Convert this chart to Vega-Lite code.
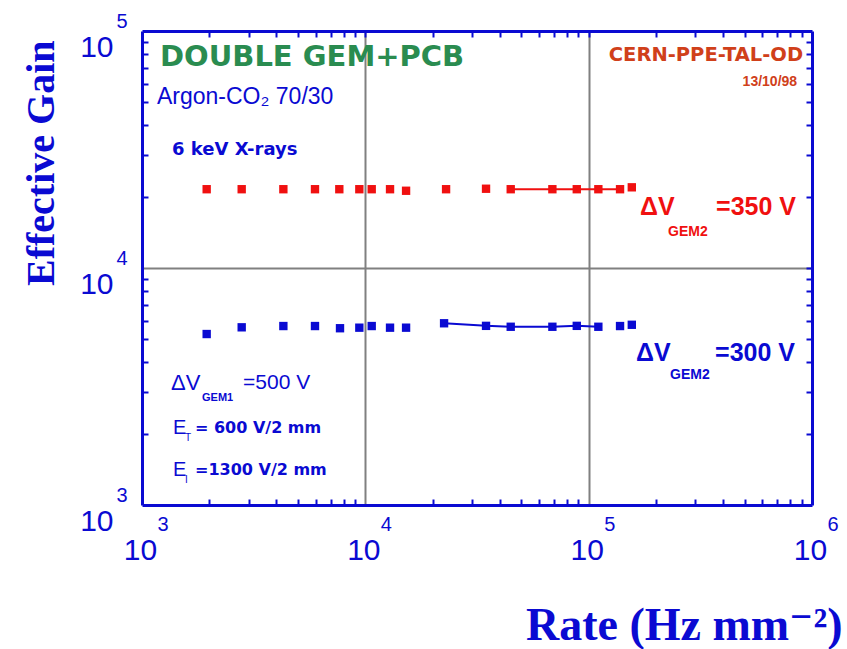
{
  "$schema": "https://vega.github.io/schema/vega-lite/v6.json",
  "width": 670,
  "height": 474,
  "autosize": {"type": "none"},
  "padding": {"left": 142, "top": 31, "right": 35, "bottom": 144},
  "background": "white",
  "config": {
    "view": {"stroke": null},
    "axis": {
      "domainColor": "#0a0ad2", "domainWidth": 3,
      "tickColor": "#0a0ad2", "tickWidth": 2,
      "labelColor": "#0a0ad2", "titleColor": "#0a0ad2",
      "gridColor": "#808080", "gridWidth": 2,
      "labelFlush": false, "labelOverlap": false, "labelBound": false
    },
    "text": {"font": "Liberation Sans, Arial, sans-serif"}
  },
  "datasets": {
    "gain": [
      {"dV": "350 V", "rate": 1948, "gain": 21500, "connected": false},
      {"dV": "350 V", "rate": 2795, "gain": 21500, "connected": false},
      {"dV": "350 V", "rate": 4295, "gain": 21500, "connected": false},
      {"dV": "350 V", "rate": 5951, "gain": 21500, "connected": false},
      {"dV": "350 V", "rate": 7647, "gain": 21500, "connected": false},
      {"dV": "350 V", "rate": 9400, "gain": 21500, "connected": false},
      {"dV": "350 V", "rate": 10680, "gain": 21500, "connected": false},
      {"dV": "350 V", "rate": 12900, "gain": 21500, "connected": false},
      {"dV": "350 V", "rate": 15220, "gain": 21180, "connected": false},
      {"dV": "350 V", "rate": 22990, "gain": 21500, "connected": false},
      {"dV": "350 V", "rate": 34710, "gain": 21600, "connected": false},
      {"dV": "350 V", "rate": 44770, "gain": 21500, "connected": true},
      {"dV": "350 V", "rate": 68790, "gain": 21500, "connected": true},
      {"dV": "350 V", "rate": 88460, "gain": 21500, "connected": true},
      {"dV": "350 V", "rate": 110500, "gain": 21500, "connected": true},
      {"dV": "350 V", "rate": 138200, "gain": 21500, "connected": true},
      {"dV": "350 V", "rate": 156000, "gain": 21900, "connected": false},
      {"dV": "300 V", "rate": 1948, "gain": 5265, "connected": false},
      {"dV": "300 V", "rate": 2795, "gain": 5620, "connected": false},
      {"dV": "300 V", "rate": 4295, "gain": 5690, "connected": false},
      {"dV": "300 V", "rate": 5951, "gain": 5690, "connected": false},
      {"dV": "300 V", "rate": 7702, "gain": 5570, "connected": false},
      {"dV": "300 V", "rate": 9400, "gain": 5600, "connected": false},
      {"dV": "300 V", "rate": 10680, "gain": 5690, "connected": false},
      {"dV": "300 V", "rate": 12900, "gain": 5600, "connected": false},
      {"dV": "300 V", "rate": 15220, "gain": 5600, "connected": false},
      {"dV": "300 V", "rate": 22520, "gain": 5845, "connected": true},
      {"dV": "300 V", "rate": 34710, "gain": 5700, "connected": true},
      {"dV": "300 V", "rate": 44770, "gain": 5650, "connected": true},
      {"dV": "300 V", "rate": 68790, "gain": 5650, "connected": true},
      {"dV": "300 V", "rate": 88460, "gain": 5700, "connected": true},
      {"dV": "300 V", "rate": 110500, "gain": 5650, "connected": true},
      {"dV": "300 V", "rate": 138200, "gain": 5690, "connected": false},
      {"dV": "300 V", "rate": 156000, "gain": 5760, "connected": false}
    ]
  },
  "layer": [
    {
      "data": {"name": "gain"},
      "mark": {"type": "point", "shape": "square", "filled": true, "size": 70, "opacity": 1},
      "encoding": {
        "x": {
          "field": "rate", "type": "quantitative",
          "scale": {"type": "log", "domain": [1000, 1000000], "nice": false},
          "axis": {
            "orient": "bottom", "ticks": false,
            "values": [1000, 10000, 100000, 1000000],
            "labelExpr": "'10'",
            "labelFont": "Liberation Sans, Arial, sans-serif",
            "labelFontSize": 30, "labelPadding": 30, "labelBaseline": "top", "labelOffset": -2,
            "grid": true,
            "gridOpacity": {"condition": {"test": "datum.value == 10000 || datum.value == 100000", "value": 1}, "value": 0},
            "title": "Rate (Hz   mm⁻²)",
            "titleFont": "Liberation Serif, DejaVu Serif, serif", "titleFontWeight": "bold", "titleFontSize": 46,
            "titleAlign": "right", "titleX": 700, "titleY": 134, "titleBaseline": "alphabetic", "titleAnchor": null
          }
        },
        "y": {
          "field": "gain", "type": "quantitative",
          "scale": {"type": "log", "domain": [1000, 100000], "nice": false},
          "axis": {
            "orient": "left", "ticks": false,
            "values": [1000, 10000, 100000],
            "labelExpr": "'10'",
            "labelFont": "Liberation Sans, Arial, sans-serif",
            "labelFontSize": 30, "labelPadding": 29, "labelBaseline": "alphabetic", "labelOffset": 25,
            "grid": true,
            "gridOpacity": {"condition": {"test": "datum.value == 10000", "value": 1}, "value": 0},
            "title": "Effective Gain",
            "titleFont": "Liberation Serif, DejaVu Serif, serif", "titleFontWeight": "bold", "titleFontSize": 40,
            "titleAngle": -90, "titleAlign": "right", "titleBaseline": "alphabetic",
            "titleX": -89, "titleY": 9, "titleAnchor": null
          }
        },
        "color": {"field": "dV", "type": "nominal", "scale": {"domain": ["350 V", "300 V"], "range": ["#f01010", "#0a0ad2"]}, "legend": null}
      }
    },
    {
      "data": {"name": "gain"},
      "transform": [{"filter": "datum.connected"}],
      "mark": {"type": "line", "strokeWidth": 2},
      "encoding": {
        "x": {"field": "rate", "type": "quantitative", "scale": {"type": "log", "domain": [1000, 1000000], "nice": false},
          "axis": {"orient": "top", "ticks": false, "labels": false, "grid": false, "title": null, "values": [1000, 1000000]}},
        "y": {"field": "gain", "type": "quantitative", "scale": {"type": "log", "domain": [1000, 100000], "nice": false},
          "axis": {"orient": "right", "ticks": false, "labels": false, "grid": false, "title": null, "values": [1000, 100000]}},
        "color": {"field": "dV", "type": "nominal", "scale": {"domain": ["350 V", "300 V"], "range": ["#f01010", "#0a0ad2"]}, "legend": null},
        "detail": {"field": "dV"}
      }
    },
    {
      "data": {"name": "gain"},
      "mark": {"type": "point", "opacity": 0},
      "encoding": {
        "x": {"field": "rate", "type": "quantitative", "scale": {"type": "log", "domain": [1000, 1000000], "nice": false},
          "axis": {"orient": "bottom", "domain": false, "grid": false, "title": null, "tickSize": 6, "offset": -6,
            "tickOpacity": {"condition": {"test": "datum.value == 1000 || datum.value == 10000 || datum.value == 100000 || datum.value == 1000000", "value": 0}, "value": 1},
            "labelExpr": "datum.value == 1000 ? '3' : datum.value == 10000 ? '4' : datum.value == 100000 ? '5' : datum.value == 1000000 ? '6' : ''",
            "labelFont": "Liberation Sans, Arial, sans-serif", "labelFontSize": 20,
            "labelAlign": "left", "labelBaseline": "top", "labelOffset": 15, "labelPadding": 9,
            "values": [1000,2000,3000,4000,5000,6000,7000,8000,9000,10000,20000,30000,40000,50000,60000,70000,80000,90000,100000,200000,300000,400000,500000,600000,700000,800000,900000,1000000]}},
        "y": {"field": "gain", "type": "quantitative", "scale": {"type": "log", "domain": [1000, 100000], "nice": false},
          "axis": {"orient": "left", "domain": false, "grid": false, "title": null, "tickSize": 6, "offset": -6,
            "tickOpacity": {"condition": {"test": "datum.value == 1000 || datum.value == 10000 || datum.value == 100000", "value": 0}, "value": 1},
            "labelExpr": "datum.value == 1000 ? '3' : datum.value == 10000 ? '4' : datum.value == 100000 ? '5' : ''",
            "labelFont": "Liberation Sans, Arial, sans-serif", "labelFontSize": 20,
            "labelAlign": "right", "labelBaseline": "middle", "labelOffset": -10, "labelPadding": 15,
            "values": [1000,2000,3000,4000,5000,6000,7000,8000,9000,10000,20000,30000,40000,50000,60000,70000,80000,90000,100000]}}
      }
    },
    {
      "data": {"name": "gain"},
      "mark": {"type": "point", "opacity": 0},
      "encoding": {
        "x": {"field": "rate", "type": "quantitative", "scale": {"type": "log", "domain": [1000, 1000000], "nice": false},
          "axis": {"orient": "top", "domain": false, "labels": false, "grid": false, "title": null, "tickSize": 6, "offset": -6,
            "values": [2000,3000,4000,5000,6000,7000,8000,9000,10000,20000,30000,40000,50000,60000,70000,80000,90000,100000,200000,300000,400000,500000,600000,700000,800000,900000]}},
        "y": {"field": "gain", "type": "quantitative", "scale": {"type": "log", "domain": [1000, 100000], "nice": false},
          "axis": {"orient": "right", "domain": false, "labels": false, "grid": false, "title": null, "tickSize": 6, "offset": -6,
            "values": [2000,3000,4000,5000,6000,7000,8000,9000,10000,20000,30000,40000,50000,60000,70000,80000,90000]}}
      }
    },
    {
      "data": {"values": [{}]},
      "mark": {"type": "text", "text": "DOUBLE GEM+PCB", "font": "DejaVu Sans, sans-serif", "fontWeight": "bold", "fontSize": 29, "color": "#2a8c50", "align": "left", "baseline": "middle"},
      "encoding": {"x": {"datum": 1204, "type": "quantitative", "axis": null}, "y": {"datum": 77630, "type": "quantitative", "axis": null}}
    },
    {
      "data": {"values": [{}]},
      "mark": {"type": "text", "text": "Argon-CO₂ 70/30", "fontSize": 23, "color": "#0a0ad2", "align": "left", "baseline": "middle"},
      "encoding": {"x": {"datum": 1167, "type": "quantitative", "axis": null}, "y": {"datum": 52660, "type": "quantitative", "axis": null}}
    },
    {
      "data": {"values": [{}]},
      "mark": {"type": "text", "text": "6 keV X-rays", "font": "DejaVu Sans, sans-serif", "fontSize": 18, "fontWeight": "bold", "color": "#0a0ad2", "align": "left", "baseline": "middle"},
      "encoding": {"x": {"datum": 1362, "type": "quantitative", "axis": null}, "y": {"datum": 31470, "type": "quantitative", "axis": null}}
    },
    {
      "data": {"values": [{}]},
      "mark": {"type": "text", "text": "CERN-PPE-TAL-OD", "font": "DejaVu Sans, sans-serif", "fontWeight": "bold", "fontSize": 19.5, "color": "#d0401a", "align": "right", "baseline": "middle"},
      "encoding": {"x": {"datum": 912400, "type": "quantitative", "axis": null}, "y": {"datum": 79210, "type": "quantitative", "axis": null}}
    },
    {
      "data": {"values": [{}]},
      "mark": {"type": "text", "text": "13/10/98", "fontWeight": "bold", "fontSize": 14, "color": "#d0401a", "align": "right", "baseline": "middle"},
      "encoding": {"x": {"datum": 857600, "type": "quantitative", "axis": null}, "y": {"datum": 60920, "type": "quantitative", "axis": null}}
    },
    {
      "data": {"values": [{}]},
      "mark": {"type": "text", "text": "ΔV", "fontWeight": "bold", "fontSize": 25, "color": "#f01010", "align": "left", "baseline": "middle"},
      "encoding": {"x": {"datum": 169900, "type": "quantitative", "axis": null}, "y": {"datum": 18090, "type": "quantitative", "axis": null}}
    },
    {
      "data": {"values": [{}]},
      "mark": {"type": "text", "text": "GEM2", "fontWeight": "bold", "fontSize": 14, "color": "#f01010", "align": "left", "baseline": "middle"},
      "encoding": {"x": {"datum": 226800, "type": "quantitative", "axis": null}, "y": {"datum": 14190, "type": "quantitative", "axis": null}}
    },
    {
      "data": {"values": [{}]},
      "mark": {"type": "text", "text": "=350 V", "fontWeight": "bold", "fontSize": 25, "color": "#f01010", "align": "left", "baseline": "middle"},
      "encoding": {"x": {"datum": 372000, "type": "quantitative", "axis": null}, "y": {"datum": 18090, "type": "quantitative", "axis": null}}
    },
    {
      "data": {"values": [{}]},
      "mark": {"type": "text", "text": "ΔV", "fontWeight": "bold", "fontSize": 25, "color": "#0a0ad2", "align": "left", "baseline": "middle"},
      "encoding": {"x": {"datum": 163100, "type": "quantitative", "axis": null}, "y": {"datum": 4379, "type": "quantitative", "axis": null}}
    },
    {
      "data": {"values": [{}]},
      "mark": {"type": "text", "text": "GEM2", "fontWeight": "bold", "fontSize": 14, "color": "#0a0ad2", "align": "left", "baseline": "middle"},
      "encoding": {"x": {"datum": 231500, "type": "quantitative", "axis": null}, "y": {"datum": 3536, "type": "quantitative", "axis": null}}
    },
    {
      "data": {"values": [{}]},
      "mark": {"type": "text", "text": "=300 V", "fontWeight": "bold", "fontSize": 25, "color": "#0a0ad2", "align": "left", "baseline": "middle"},
      "encoding": {"x": {"datum": 368100, "type": "quantitative", "axis": null}, "y": {"datum": 4379, "type": "quantitative", "axis": null}}
    },
    {
      "data": {"values": [{}]},
      "mark": {"type": "text", "text": "ΔV", "fontSize": 22, "color": "#0a0ad2", "align": "left", "baseline": "middle"},
      "encoding": {"x": {"datum": 1349, "type": "quantitative", "axis": null}, "y": {"datum": 3272, "type": "quantitative", "axis": null}}
    },
    {
      "data": {"values": [{}]},
      "mark": {"type": "text", "text": "GEM1", "fontWeight": "bold", "fontSize": 11, "color": "#0a0ad2", "align": "left", "baseline": "middle"},
      "encoding": {"x": {"datum": 1856, "type": "quantitative", "axis": null}, "y": {"datum": 2828, "type": "quantitative", "axis": null}}
    },
    {
      "data": {"values": [{}]},
      "mark": {"type": "text", "text": "=500 V", "fontSize": 21, "color": "#0a0ad2", "align": "left", "baseline": "middle"},
      "encoding": {"x": {"datum": 2834, "type": "quantitative", "axis": null}, "y": {"datum": 3272, "type": "quantitative", "axis": null}}
    },
    {
      "data": {"values": [{}]},
      "mark": {"type": "text", "text": "E", "fontSize": 20, "color": "#0a0ad2", "align": "left", "baseline": "middle"},
      "encoding": {"x": {"datum": 1377, "type": "quantitative", "axis": null}, "y": {"datum": 2113, "type": "quantitative", "axis": null}}
    },
    {
      "data": {"values": [{}]},
      "mark": {"type": "text", "text": "T", "fontSize": 10, "color": "#0a0ad2", "align": "left", "baseline": "middle"},
      "encoding": {"x": {"datum": 1558, "type": "quantitative", "axis": null}, "y": {"datum": 1917, "type": "quantitative", "axis": null}}
    },
    {
      "data": {"values": [{}]},
      "mark": {"type": "text", "text": "= 600 V/2 mm", "font": "DejaVu Sans, sans-serif", "fontWeight": "bold", "fontSize": 16, "color": "#0a0ad2", "align": "left", "baseline": "middle"},
      "encoding": {"x": {"datum": 1727, "type": "quantitative", "axis": null}, "y": {"datum": 2113, "type": "quantitative", "axis": null}}
    },
    {
      "data": {"values": [{}]},
      "mark": {"type": "text", "text": "E", "fontSize": 20, "color": "#0a0ad2", "align": "left", "baseline": "middle"},
      "encoding": {"x": {"datum": 1377, "type": "quantitative", "axis": null}, "y": {"datum": 1405, "type": "quantitative", "axis": null}}
    },
    {
      "data": {"values": [{}]},
      "mark": {"type": "text", "text": "I", "fontSize": 10, "color": "#0a0ad2", "align": "left", "baseline": "middle"},
      "encoding": {"x": {"datum": 1558, "type": "quantitative", "axis": null}, "y": {"datum": 1275, "type": "quantitative", "axis": null}}
    },
    {
      "data": {"values": [{}]},
      "mark": {"type": "text", "text": "=1300 V/2 mm", "font": "DejaVu Sans, sans-serif", "fontWeight": "bold", "fontSize": 16, "color": "#0a0ad2", "align": "left", "baseline": "middle"},
      "encoding": {"x": {"datum": 1727, "type": "quantitative", "axis": null}, "y": {"datum": 1405, "type": "quantitative", "axis": null}}
    }
  ],
  "resolve": {"axis": {"x": "independent", "y": "independent"}}
}
